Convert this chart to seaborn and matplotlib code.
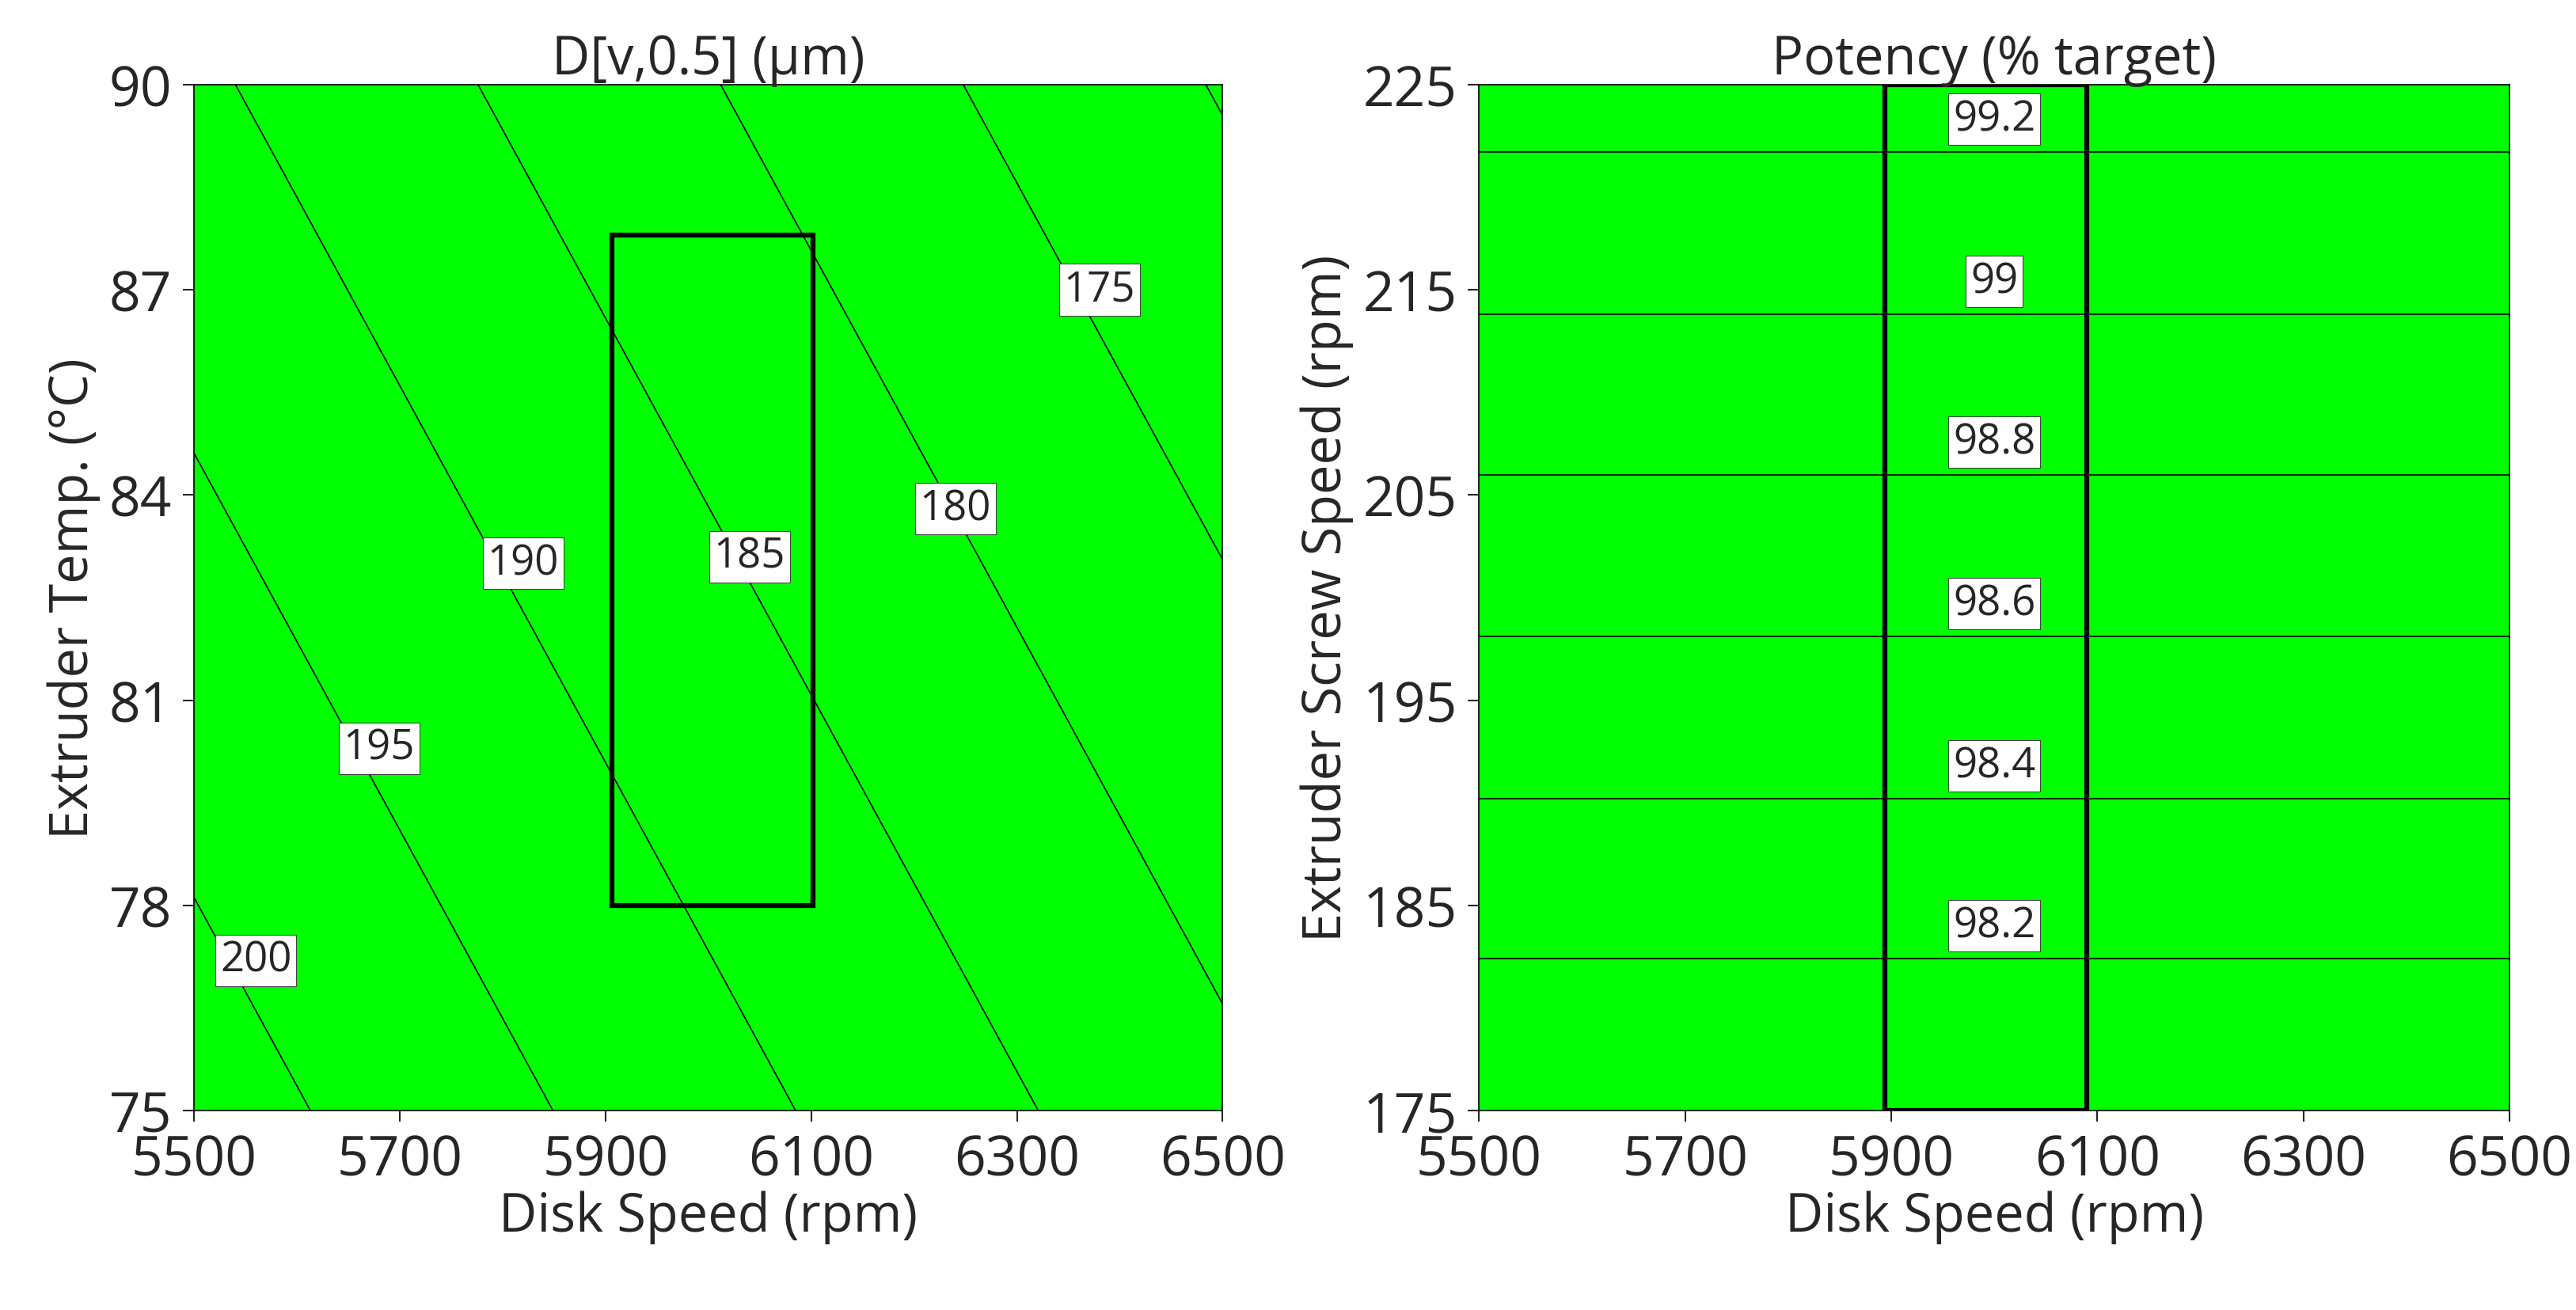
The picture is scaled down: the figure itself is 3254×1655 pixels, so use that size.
import numpy as np
import matplotlib
matplotlib.use("Agg")
import matplotlib.pyplot as plt
from matplotlib.patches import Rectangle
import seaborn as sns

sns.set_style("white")
plt.rcParams['font.family'] = ['Open Sans', 'DejaVu Sans']

# Left panel: D[v,0.5] planar response (intercept at 5500 rpm / 75 °C, slopes)
d_intercept = 202.4
d_slope_rpm = -0.0212
d_slope_temp = -0.77
d_levels = [170, 175, 180, 185, 190, 195, 200]
d_label_pos = {175: (6380, 87.0), 180: (6240, 83.8), 185: (6040, 83.1),
               190: (5820, 83.0), 195: (5680, 80.3), 200: (5560, 77.2)}
left_rect = (5906, 78.0, 6102, 87.8)

# Right panel: Potency vs screw speed (levels and screw speed where each line sits)
p_levels = [98.2, 98.4, 98.6, 98.8, 99.0, 99.2]
p_line_y = [182.4, 190.2, 198.1, 205.96, 213.8, 221.7]
right_rect = (5894, 175, 6090, 225)

fig = plt.figure(figsize=(32.55, 16.56), dpi=100)
green = "#00FF00"
tick_fs, lab_fs, clab_fs = 50, 48, 38

# ---- left
ax1 = fig.add_axes([0.0753, 0.152, 0.3992, 0.783])
x = np.linspace(5500, 6500, 200)
t = np.linspace(75, 90, 200)
X, T = np.meshgrid(x, t)
D = d_intercept + d_slope_rpm * (X - 5500) + d_slope_temp * (T - 75)
ax1.set_facecolor(green)
ax1.contourf(X, T, D, levels=[100, 300], colors=[green])
ax1.contour(X, T, D, levels=d_levels, colors="black", linewidths=1.2)
for lv, (px, py) in d_label_pos.items():
    ax1.text(px, py, str(lv), fontsize=clab_fs, ha="center", va="center",
             bbox=dict(facecolor="white", edgecolor="#444", linewidth=0.8, pad=4))
ax1.add_patch(Rectangle((left_rect[0], left_rect[1]), left_rect[2] - left_rect[0],
                        left_rect[3] - left_rect[1], fill=False, edgecolor="black", linewidth=4.5))
ax1.set_xlim(5500, 6500); ax1.set_ylim(75, 90)
ax1.set_xticks([5500, 5700, 5900, 6100, 6300, 6500])
ax1.set_yticks([75, 78, 81, 84, 87, 90])
ax1.set_xlabel("Disk Speed (rpm)", fontsize=lab_fs, labelpad=2)
ax1.set_ylabel("Extruder Temp. (°C)", fontsize=lab_fs, labelpad=8)
ax1.set_title("D[v,0.5] (µm)", fontsize=lab_fs, pad=10)

# ---- right
ax2 = fig.add_axes([0.574, 0.152, 0.3999, 0.783])
s = np.linspace(175, 225, 200)
X2, S = np.meshgrid(x, s)
P = np.interp(S, p_line_y, p_levels, left=np.nan, right=np.nan)
P = np.where(np.isnan(P), 98.2 + (S - 182.4) * 0.2 / 7.86, P)
ax2.set_facecolor(green)
ax2.contour(X2, S, P, levels=p_levels, colors="black", linewidths=1.2)
for lv, yy in zip(p_levels, p_line_y):
    ax2.text(6000, yy + 1.6, f"{lv:g}", fontsize=clab_fs, ha="center", va="center",
             bbox=dict(facecolor="white", edgecolor="#444", linewidth=0.8, pad=4))
ax2.add_patch(Rectangle((right_rect[0], right_rect[1]), right_rect[2] - right_rect[0],
                        right_rect[3] - right_rect[1], fill=False, edgecolor="black", linewidth=4.5))
ax2.set_xlim(5500, 6500); ax2.set_ylim(175, 225)
ax2.set_xticks([5500, 5700, 5900, 6100, 6300, 6500])
ax2.set_yticks([175, 185, 195, 205, 215, 225])
ax2.set_xlabel("Disk Speed (rpm)", fontsize=lab_fs, labelpad=2)
ax2.set_ylabel("Extruder Screw Speed (rpm)", fontsize=lab_fs, labelpad=8)
ax2.set_title("Potency (% target)", fontsize=lab_fs, pad=10)

for ax in (ax1, ax2):
    ax.tick_params(axis="both", labelsize=tick_fs, direction="out", length=10, width=1.5,
                   bottom=True, left=True, pad=10)
    for sp in ax.spines.values():
        sp.set_color("black"); sp.set_linewidth(1.2)

fig.savefig("out.png", dpi=100)
